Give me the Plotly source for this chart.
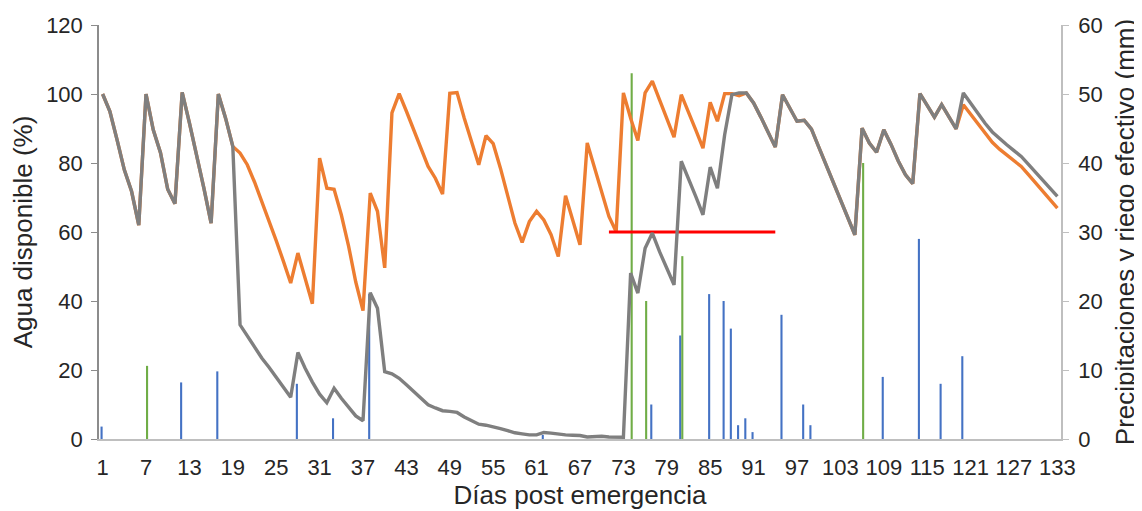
import plotly.graph_objects as go

# ---------------- data ----------------
days = list(range(1, 134))

# Agua disponible (%) - serie gris
agua_gris = [
    100, 95, 86.7, 78, 71.8, 62, 100, 89.6, 83, 72.4,
    68.2, 100.5, 91.6, 82.4, 72.7, 62.6, 100, 93, 84.8, 33.1,
    30, 26.5, 23.5, 20.8, 17.8, 14.8, 12.1, 25.1, 20.5, 16.5,
    13, 10.5, 14.7, 11.8, 9.2, 6.7, 5.3, 42.4, 37.9, 19.5,
    18.9, 17.6, 15.7, 13.7, 11.8, 9.9, 9, 8.2, 8, 7.7,
    6.4, 5.3, 4.3, 4, 3.6, 3, 2.4, 1.8, 1.5, 1.2,
    1.2, 1.9, 1.7, 1.4, 1.2, 1.1, 1.0, 0.6, 0.7, 0.8,
    0.6, 0.5, 0.5, 48.1, 42.3, 55.3, 59.7, 54.3, 49.5, 44.7,
    80.5, 75.6, 70.3, 65, 78.8, 72.7, 88.2, 99.8, 100.3, 100.3,
    97.4, 93.3, 89, 84.6, 99.8, 95.9, 92.1, 92.4, 89.8, 84.7,
    79.6, 74.5, 69.4, 64.3, 59.2, 90.1, 85.8, 83.1, 89.6, 85.4,
    80.6, 76.6, 74, 100.1, 96.9, 93.3, 96.9, 93.6, 89.9, 100.3,
    97.3, 94.5, 91.5, 89, 87, 85.3, 83.6, 81.9, 79.6, 77.3,
    75, 72.6, 70.3,
]

# Agua disponible (%) - serie naranja
agua_naranja = [
    100, 95, 86.7, 78, 71.8, 62, 100, 89.6, 83, 72.4,
    68.2, 100.5, 91.6, 82.4, 72.7, 62.6, 100, 93, 84.8, 82.9,
    79.5, 74.5, 69, 63.5, 57.5, 51.5, 45.2, 53.9, 46.5, 39.2,
    81.4, 72.7, 72.4, 65, 56, 45.5, 37.2, 71.3, 66, 49.6,
    94.5, 100.1, 95, 89.5, 84.5, 79, 75.6, 71, 100.2, 100.4,
    93, 86, 79.5, 87.9, 85.6, 78.5, 70.5, 62.6, 57, 63,
    66, 63.5, 59.2, 52.9, 70.5, 63.5, 56.3, 85.8, 78.5, 71.3,
    64.5, 60.1, 100.3, 93, 86.5, 100.3, 103.7, 98.3, 93, 87.5,
    99.8, 95, 89.6, 84.3, 97.6, 92.1, 100.1, 100.1, 99.5, 100.3,
    97.4, 93.3, 89, 84.6, 99.8, 95.9, 92.1, 92.4, 89.8, 84.7,
    79.6, 74.5, 69.4, 64.3, 59.2, 90.1, 85.8, 83.1, 89.6, 85.4,
    80.6, 76.6, 74, 100.1, 96.9, 93.3, 96.9, 93.6, 89.9, 96.9,
    94.2, 91.4, 88.6, 86, 84, 82.4, 80.7, 79, 76.6, 74.2,
    71.7, 69.3, 66.9,
]

# Precipitaciones (mm)
lluvia_dias = [1, 12, 17, 28, 33, 38, 62, 77, 81, 85, 87, 88, 89, 90, 91, 95, 98, 99, 109, 114, 117, 120]
lluvia_mm = [1.8, 8.2, 9.8, 8, 3, 21, 0.6, 5, 15, 21, 20, 16, 2, 3, 1, 18, 5, 2, 9, 29, 8, 12]

# Riego efectivo (mm)
riego_dias = [7, 74, 76, 81, 106]
riego_mm = [10.6, 53, 20, 26.5, 40]

# Umbral (%)
umbral_dias = [71, 94]
umbral_valor = [60, 60]

tick_dias = list(range(1, 134, 6))
tick_text = [str(d) for d in tick_dias]

# ---------------- figure ----------------
fig = go.Figure()

fig.add_trace(go.Bar(x=lluvia_dias, y=lluvia_mm, marker=dict(color="#4472C4", line=dict(width=0)),
                     name="Precipitaciones", xaxis="x", yaxis="y"))
fig.add_trace(go.Bar(x=riego_dias, y=riego_mm, marker=dict(color="#70AD47", line=dict(width=0)),
                     name="Riego efectivo", xaxis="x", yaxis="y"))

fig.add_trace(go.Scatter(x=days, y=agua_naranja, mode="lines", line=dict(color="#ED7D31", width=3.4),
                         name="Agua disponible (riego)", xaxis="x", yaxis="y2"))
fig.add_trace(go.Scatter(x=umbral_dias, y=umbral_valor, mode="lines", line=dict(color="#FF0000", width=3.2),
                         name="Umbral", xaxis="x", yaxis="y2"))
fig.add_trace(go.Scatter(x=days, y=agua_gris, mode="lines", line=dict(color="#7F7F7F", width=3.4),
                         name="Agua disponible", xaxis="x", yaxis="y2"))

font_color = "#262626"
# the page body adds an 8 px margin, so the figure is a little smaller
fig.update_layout(
    width=1134, height=503,
    margin=dict(l=91, r=81, t=17, b=72),
    plot_bgcolor="white", paper_bgcolor="white",
    showlegend=False,
    barmode="group", bargap=0.42, bargroupgap=0,
    font=dict(family="Liberation Sans, Arial, sans-serif", size=22, color=font_color),
    xaxis=dict(
        range=[0.5, 133.5], tickmode="array", tickvals=tick_dias, ticktext=tick_text,
        showline=True, linecolor="#BFBFBF", linewidth=1.5, showgrid=False, zeroline=False,
        ticks="", ticklabelstandoff=8, automargin=False,
        title=dict(text="Días post emergencia", standoff=6),
    ),
    yaxis=dict(
        side="right", range=[0, 60], dtick=10, tickmode="linear", tick0=0,
        showline=True, linecolor="#BFBFBF", linewidth=1.5, showgrid=False, zeroline=False,
        ticks="outside", ticklen=6, tickcolor="#BFBFBF", tickwidth=1,
        ticklabelstandoff=5, automargin=False,
        title=dict(text="Precipitaciones y riego efectivo (mm)", standoff=14),
    ),
    yaxis2=dict(
        overlaying="y", side="left", range=[0, 120], dtick=20, tickmode="linear", tick0=0,
        showline=True, linecolor="#8C8C8C", linewidth=1.5, showgrid=False, zeroline=False,
        ticks="outside", ticklen=6, tickcolor="#8C8C8C", tickwidth=1,
        ticklabelstandoff=4, automargin=False,
        title=dict(text="Agua disponible (%)", standoff=6),
    ),
)

fig.write_html("out.html")
